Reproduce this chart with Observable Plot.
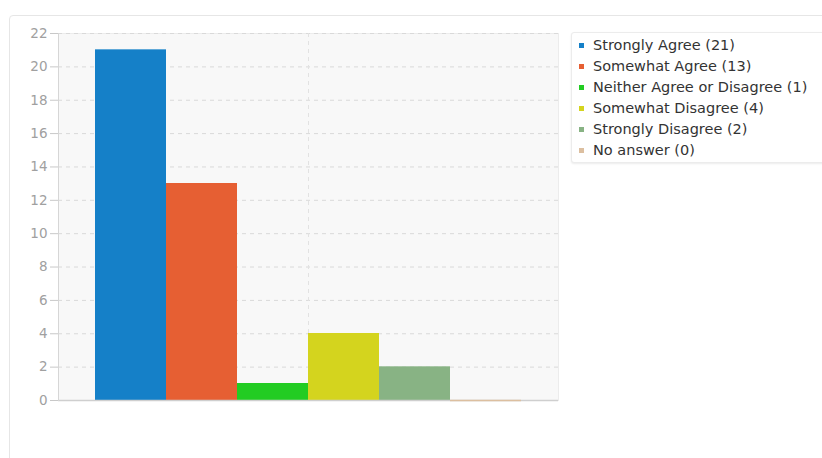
<!DOCTYPE html>
<html>
<head>
<meta charset="utf-8">
<script src="https://cdn.jsdelivr.net/npm/d3@7"></script>
<script src="https://cdn.jsdelivr.net/npm/@observablehq/plot@0.6"></script>
<style>
  html, body { margin: 0; padding: 0; background: #fff; }
  #wrap { position: relative; width: 822px; height: 458px; overflow: hidden; background: #fff;
          font-family: "DejaVu Sans", sans-serif; }
  #card { position: absolute; left: 9px; top: 15px; width: 840px; height: 470px;
          border: 1px solid #e6e6e6; border-radius: 4px; background: #fff; box-sizing: border-box; }
  #chart { position: absolute; left: 0; top: 0; }
  #legend { position: absolute; left: 571px; top: 32px; width: 270px; height: 131px;
            border: 1px solid #ececec; border-radius: 3px; background: #fff;
            box-shadow: 0 1px 2px rgba(0,0,0,0.08); box-sizing: border-box; padding-top: 2px; }
  .item { height: 21px; line-height: 21px; font-size: 14.5px; color: #333; white-space: nowrap; position: relative; }
  .sw { position: absolute; left: 7px; top: 8px; width: 5px; height: 5px; }
  .lbl { position: absolute; left: 21px; top: 0; }
</style>
</head>
<body>
<div id="wrap">
  <div id="card"></div>
  <div id="chart"></div>
  <div id="legend"></div>
</div>
<script>
// Survey answers and their counts
const categories = [
  "Strongly Agree",
  "Somewhat Agree",
  "Neither Agree or Disagree",
  "Somewhat Disagree",
  "Strongly Disagree",
  "No answer"
];
const counts = [21, 13, 1, 4, 2, 0];
const colors = ["#1580c8", "#e65f33", "#22cc22", "#d4d41e", "#88b384", "#dcbfa0"];
const groups = ["responses"];
const yTicks = [0, 2, 4, 6, 8, 10, 12, 14, 16, 18, 20, 22];

const data = categories.map((answer, i) => ({group: groups[0], answer, count: counts[i]}));

const chart = Plot.plot({
  width: 822,
  height: 458,
  marginLeft: 58,
  marginRight: 264,
  marginTop: 33,
  marginBottom: 58,
  style: {background: "transparent", fontFamily: "DejaVu Sans, sans-serif", fontSize: "13px", overflow: "visible"},
  fx: {domain: groups, padding: 0, axis: null},
  x: {domain: categories, paddingInner: 0, paddingOuter: 0.5, axis: null},
  y: {domain: [0, 22], axis: null},
  color: {domain: categories, range: colors},
  marks: [
    Plot.frame({fill: "#f8f8f8", stroke: "#ececec"}),
    Plot.gridY(yTicks, {stroke: "#d9d9d9", strokeOpacity: 1, strokeDasharray: "4,4"}),
    Plot.gridFx({stroke: "#e2e2e2", strokeOpacity: 1, strokeDasharray: "4,4"}),
    Plot.barY(data, {fx: "group", x: "answer", y: "count", fill: "answer"}),
    Plot.ruleY([0], {stroke: "#cfcfcf", strokeWidth: 1.5}),
    Plot.frame({anchor: "left", stroke: "#d6d6d6"}),
    Plot.tickY(data, {fx: "group", x: "answer", y: "count", stroke: "answer", strokeWidth: 1.5}),
    Plot.axisY(yTicks, {
      tickSize: 8, tickPadding: 3, stroke: "#c8c8c8", color: "#a0a0a0",
      fill: "#a0a0a0", fontSize: 13.5, label: null
    })
  ]
});
document.getElementById("chart").appendChild(chart);

// Legend entries with counts
const legend = d3.select("#legend");
categories.forEach((c, i) => {
  const row = legend.append("div").attr("class", "item");
  row.append("span").attr("class", "sw").style("background", colors[i]);
  row.append("span").attr("class", "lbl").text(`${c} (${counts[i]})`);
});
</script>
</body>
</html>
